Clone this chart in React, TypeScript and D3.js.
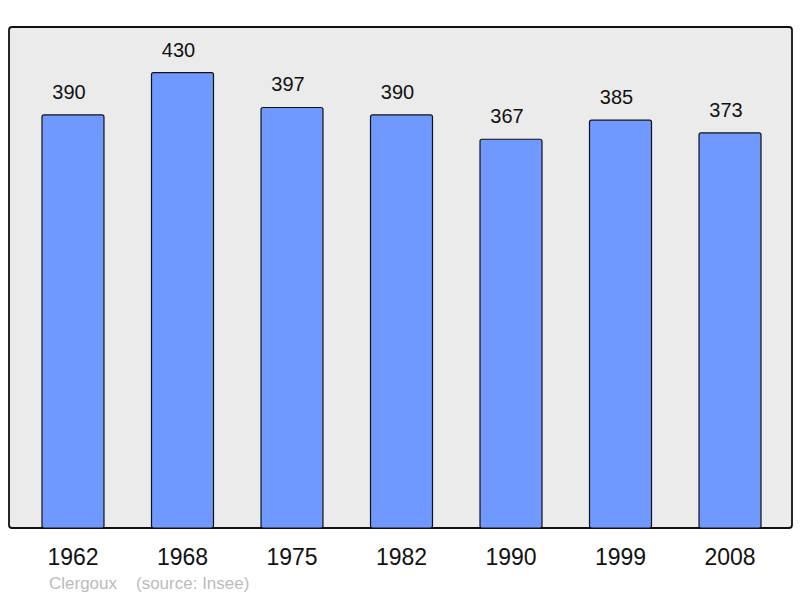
import React from "react";
import * as d3 from "d3";

const years = ["1962", "1968", "1975", "1982", "1990", "1999", "2008"];
const population = [390, 430, 397, 390, 367, 385, 373];
const commune = "Clergoux";
const sourceText = "(source: Insee)";

const W = 800;
const H = 598;
const frame = { left: 9, top: 27, right: 792, bottom: 528 };

export default function App() {
  const maxV = d3.max(population) as number;
  const y = d3.scaleLinear().domain([0, maxV * 1.1]).range([frame.bottom, frame.top]);
  const x = d3
    .scaleBand<string>()
    .domain(years)
    .range([42, 761])
    .paddingInner(0.434)
    .paddingOuter(0);
  const bw = x.bandwidth();
  const font = "'Liberation Sans', Arial, sans-serif";
  return (
    <svg
      width={W}
      height={H}
      style={{ position: "absolute", left: 0, top: 0 }}
      fontFamily={font}
    >
      <rect
        x={frame.left}
        y={frame.top}
        width={frame.right - frame.left}
        height={frame.bottom - frame.top}
        rx={3}
        fill="#ebebeb"
        stroke="#111"
        strokeWidth={1.8}
      />
      {years.map((yr, i) => {
        const v = population[i];
        const bx = x(yr) as number;
        const by = y(v);
        return (
          <g key={yr}>
            <rect
              x={bx}
              y={by}
              width={bw}
              height={frame.bottom - by}
              rx={2}
              fill="#7099ff"
              stroke="#111"
              strokeWidth={1.2}
            />
            <text x={bx + bw / 2 - 4} y={by - 16} textAnchor="middle" fontSize={20} fill="#111">
              {v}
            </text>
            <text x={bx + bw / 2} y={565} textAnchor="middle" fontSize={23} fill="#111">
              {yr}
            </text>
          </g>
        );
      })}
      <text x={49} y={589} fontSize={17} fill="#bbbbbb">
        {commune}
      </text>
      <text x={136} y={589} fontSize={17} fill="#bbbbbb">
        {sourceText}
      </text>
    </svg>
  );
}
